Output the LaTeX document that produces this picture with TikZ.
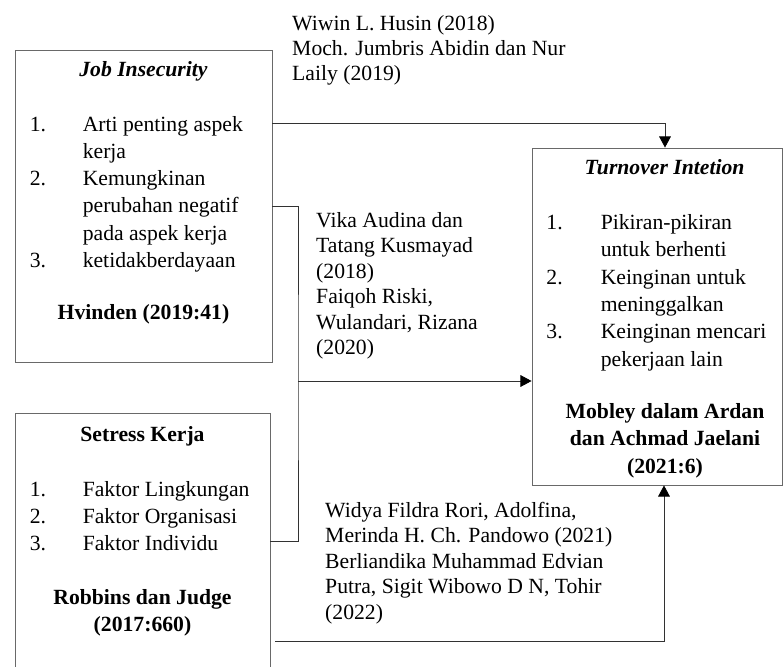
\documentclass[tikz,border=0pt]{standalone}
\usepackage{fontspec}
\setmainfont{Liberation Serif}
\usepackage{tikz}
\usetikzlibrary{arrows.meta, positioning, calc}
\definecolor{boxgray}{RGB}{105,105,105}
\definecolor{linkgray}{RGB}{50,50,50}
\tikzset{
  varbox/.style={rectangle, draw=boxgray, line width=0.75pt, inner sep=0pt},
  boxtitle/.style={anchor=base, inner sep=0pt,
    font=\fontsize{18.5pt}{23.3pt}\selectfont\bfseries},
  itemlist/.style={anchor=base west, inner sep=0pt,
    font=\fontsize{18.5pt}{23.3pt}\selectfont},
  boxsource/.style={anchor=base, inner sep=0pt, align=center,
    font=\fontsize{18.5pt}{23.3pt}\selectfont\bfseries},
  refnote/.style={anchor=base west, inner sep=0pt, align=left,
    font=\fontsize{18.5pt}{21.7pt}\selectfont},
  link/.style={draw=linkgray, line width=0.75pt},
  arrow/.style={link, -{Triangle[length=9.5pt, width=10pt, color=black]}},
}

\begin{document}
\begin{tikzpicture}
  \useasboundingbox (0,0) rectangle (23.49,-20.01);

  \node[varbox, minimum width=7.71cm, minimum height=9.36cm]
    (ji) at (4.305,-6.18) {};
  \node[varbox, minimum width=7.65cm, minimum height=7.68cm]
    (sk) at (4.275,-16.23) {};
  \node[varbox, minimum width=7.5cm, minimum height=10.11cm]
    (ti) at (19.71,-9.495) {};

  \node[boxtitle] (jititle) at ($(ji.north)+(0,-0.81)$)
    {\textit{Job Insecurity}};
  \node[itemlist] (jilist) at ($(ji.north west)+(0.45,-2.445)$) {%
    \begin{tabular}[t]{@{}p{1.59cm}@{}l@{}}
      1. & Arti penting aspek\\
         & kerja\\
      2. & Kemungkinan\\
         & perubahan negatif\\
         & pada aspek kerja\\
      3. & ketidakberdayaan
    \end{tabular}};
  \node[boxsource] (jisrc) at ($(ji.north)+(0,-8.1)$) {Hvinden (2019:41)};

  \node[boxtitle] (sktitle) at ($(sk.north)+(0,-0.86)$) {Setress Kerja};
  \node[itemlist] (sklist) at ($(sk.north west)+(0.45,-2.51)$) {%
    \begin{tabular}[t]{@{}p{1.59cm}@{}l@{}}
      1. & Faktor Lingkungan\\
      2. & Faktor Organisasi\\
      3. & Faktor Individu
    \end{tabular}};
  \node[boxsource] (sksrc) at ($(sk.north)+(0,-6.58)$)
    {Robbins dan Judge\\(2017:660)};

  \node[boxtitle] (tititle) at ($(ti.north)+(0.225,-0.81)$)
    {\textit{Turnover Intetion}};
  \node[itemlist] (tilist) at ($(ti.north west)+(0.44,-2.46)$) {%
    \begin{tabular}[t]{@{}p{1.63cm}@{}l@{}}
      1. & Pikiran-pikiran\\
         & untuk berhenti\\
      2. & Keinginan untuk\\
         & meninggalkan\\
      3. & Keinginan mencari\\
         & pekerjaan lain
    \end{tabular}};
  \node[boxsource] (tisrc) at ($(ti.north)+(0.24,-9.77)$)
    {Mobley dalam Ardan\\dan Achmad Jaelani\\(2021:6)};

  \node[refnote] (wiwin) at (8.76,-2.43)
    {Wiwin L. Husin (2018)\\Moch. Jumbris Abidin dan Nur\\Laily (2019)};
  \node[refnote] (vika) at (9.48,-10.635)
    {Vika Audina dan\\Tatang Kusmayad\\(2018)\\Faiqoh Riski,\\Wulandari, Rizana\\(2020)};
  \node[refnote] (widya) at (9.75,-18.57)
    {Widya Fildra Rori, Adolfina,\\Merinda H. Ch. Pandowo (2021)\\%
     Berliandika Muhammad Edvian\\Putra, Sigit Wibowo D N, Tohir\\(2022)};

  \coordinate (jn) at (8.94,-11.43);

  \draw[arrow] ($(ji.north east)+(0,-2.22)$) -| ($(ti.north)+(0.24,0)$);
  \draw[link] (ji.east) -| (jn) |- (sk.east);
  \draw[arrow] (jn) -- (jn -| ti.west);
  \draw[arrow] ($(sk.east)+(0.15,-3.0)$) -| ($(ti.south)+(0.21,0)$);
\end{tikzpicture}
\end{document}
